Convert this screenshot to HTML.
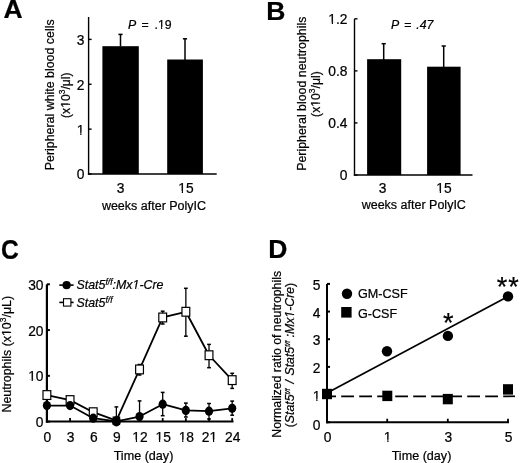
<!DOCTYPE html>
<html><head><meta charset="utf-8"><style>
html,body{margin:0;padding:0;background:#fff;width:520px;height:463px;overflow:hidden}
svg{display:block;will-change:transform}
text{font-family:"Liberation Sans", sans-serif;fill:#000;stroke:#000;stroke-width:0.22px}
</style></head><body>
<svg width="520" height="463" viewBox="0 0 520 463">
<rect width="520" height="463" fill="#fff"/>
<text x="3.5" y="18.3" font-size="26.5" text-anchor="start" font-weight="bold" font-style="normal" >A</text>
<line x1="88.6" y1="17.0" x2="88.6" y2="174.7" stroke="#000" stroke-width="1.4" />
<line x1="87.89999999999999" y1="174.0" x2="216.7" y2="174.0" stroke="#000" stroke-width="1.5" />
<line x1="88.6" y1="174.0" x2="91.6" y2="174.0" stroke="#000" stroke-width="1.4" />
<text x="84.5" y="179.4" font-size="13.8" text-anchor="end" font-weight="normal" font-style="normal" >0</text>
<line x1="88.6" y1="129.13333333333333" x2="91.6" y2="129.13333333333333" stroke="#000" stroke-width="1.4" />
<text x="84.5" y="134.53333333333333" font-size="13.8" text-anchor="end" font-weight="normal" font-style="normal" >1</text>
<line x1="88.6" y1="84.26666666666667" x2="91.6" y2="84.26666666666667" stroke="#000" stroke-width="1.4" />
<text x="84.5" y="89.66666666666667" font-size="13.8" text-anchor="end" font-weight="normal" font-style="normal" >2</text>
<line x1="88.6" y1="39.400000000000006" x2="91.6" y2="39.400000000000006" stroke="#000" stroke-width="1.4" />
<text x="84.5" y="44.800000000000004" font-size="13.8" text-anchor="end" font-weight="normal" font-style="normal" >3</text>
<rect x="102.4" y="46.2" width="36.4" height="127.8" fill="#000" />
<rect x="167.2" y="59.5" width="35.7" height="114.5" fill="#000" />
<line x1="120.5" y1="34.4" x2="120.5" y2="46.5" stroke="#000" stroke-width="1.5" />
<line x1="118.4" y1="34.4" x2="122.6" y2="34.4" stroke="#000" stroke-width="1.5" />
<line x1="185.0" y1="38.8" x2="185.0" y2="60" stroke="#000" stroke-width="1.5" />
<line x1="182.9" y1="38.8" x2="187.1" y2="38.8" stroke="#000" stroke-width="1.5" />
<text x="128.0" y="28.6" font-size="12.3" text-anchor="start" font-weight="normal" font-style="italic" >P</text>
<text x="141.6" y="28.6" font-size="12.3" text-anchor="start" font-weight="normal" font-style="normal" >=</text>
<text x="154.6" y="28.6" font-size="12.3" text-anchor="start" font-weight="normal" font-style="normal" >.19</text>
<text x="120.6" y="192.7" font-size="13.8" text-anchor="middle" font-weight="normal" font-style="normal" >3</text>
<text x="186.0" y="192.7" font-size="13.8" text-anchor="middle" font-weight="normal" font-style="normal" >15</text>
<text x="154.0" y="209.6" font-size="12.5" text-anchor="middle" font-weight="normal" font-style="normal" >weeks after PolyIC</text>
<text transform="translate(54.4,94.8) rotate(-90)" x="0" y="0" font-size="12.4" text-anchor="middle" >Peripheral white blood cells</text>
<text transform="translate(70.0,95.2) rotate(-90)" x="0" y="0" font-size="12.2" text-anchor="middle" >(x10<tspan font-size="8.5" dy="-5.3">3</tspan><tspan dy="5.3">/μl)</tspan></text>
<text x="266.2" y="20.2" font-size="26.5" text-anchor="start" font-weight="bold" font-style="normal" >B</text>
<line x1="354.5" y1="18.8" x2="354.5" y2="175.7" stroke="#000" stroke-width="1.4" />
<line x1="353.8" y1="175.0" x2="472.5" y2="175.0" stroke="#000" stroke-width="1.5" />
<line x1="354.5" y1="175.0" x2="357.5" y2="175.0" stroke="#000" stroke-width="1.4" />
<text x="347.5" y="180.3" font-size="13.8" text-anchor="end" font-weight="normal" font-style="normal" >0</text>
<line x1="354.5" y1="122.93333333333334" x2="357.5" y2="122.93333333333334" stroke="#000" stroke-width="1.4" />
<text x="347.5" y="128.23333333333335" font-size="13.8" text-anchor="end" font-weight="normal" font-style="normal" >0.4</text>
<line x1="354.5" y1="70.86666666666667" x2="357.5" y2="70.86666666666667" stroke="#000" stroke-width="1.4" />
<text x="347.5" y="76.16666666666667" font-size="13.8" text-anchor="end" font-weight="normal" font-style="normal" >0.8</text>
<line x1="354.5" y1="18.80000000000001" x2="357.5" y2="18.80000000000001" stroke="#000" stroke-width="1.4" />
<text x="347.5" y="24.100000000000012" font-size="13.8" text-anchor="end" font-weight="normal" font-style="normal" >1.2</text>
<rect x="367.1" y="59.2" width="34.1" height="115.8" fill="#000" />
<rect x="427.1" y="66.7" width="33.5" height="108.3" fill="#000" />
<line x1="383.7" y1="43.7" x2="383.7" y2="60" stroke="#000" stroke-width="1.5" />
<line x1="381.6" y1="43.7" x2="385.8" y2="43.7" stroke="#000" stroke-width="1.5" />
<line x1="443.7" y1="46.0" x2="443.7" y2="67" stroke="#000" stroke-width="1.5" />
<line x1="441.6" y1="46.0" x2="445.8" y2="46.0" stroke="#000" stroke-width="1.5" />
<text x="391.0" y="28.8" font-size="12.3" text-anchor="start" font-weight="normal" font-style="italic" >P</text>
<text x="404.2" y="28.8" font-size="12.3" text-anchor="start" font-weight="normal" font-style="normal" >=</text>
<text x="416.3" y="28.8" font-size="12.3" text-anchor="start" font-weight="normal" font-style="italic" >.47</text>
<text x="382.5" y="193" font-size="13.8" text-anchor="middle" font-weight="normal" font-style="normal" >3</text>
<text x="444.0" y="193" font-size="13.8" text-anchor="middle" font-weight="normal" font-style="normal" >15</text>
<text x="413.8" y="209.0" font-size="12.5" text-anchor="middle" font-weight="normal" font-style="normal" >weeks after PolyIC</text>
<text transform="translate(306.0,93.7) rotate(-90)" x="0" y="0" font-size="12.4" text-anchor="middle" >Peripheral blood neutrophils</text>
<text transform="translate(320.0,94.1) rotate(-90)" x="0" y="0" font-size="12.2" text-anchor="middle" >(x10<tspan font-size="8.5" dy="-5.3">3</tspan><tspan dy="5.3">/μl)</tspan></text>
<text transform="translate(1.0,259.3) scale(0.93,1.05)" x="0" y="0" font-size="26.5" font-weight="bold">C</text>
<line x1="46.9" y1="284.3" x2="46.9" y2="422.70000000000005" stroke="#000" stroke-width="2.2" />
<line x1="45.9" y1="421.6" x2="233.5" y2="421.6" stroke="#000" stroke-width="2" />
<line x1="46.9" y1="421.6" x2="49.9" y2="421.6" stroke="#000" stroke-width="2" />
<text x="43.5" y="427.1" font-size="13.8" text-anchor="end" font-weight="normal" font-style="normal" >0</text>
<line x1="46.9" y1="375.83333333333337" x2="49.9" y2="375.83333333333337" stroke="#000" stroke-width="2" />
<text x="43.5" y="381.33333333333337" font-size="13.8" text-anchor="end" font-weight="normal" font-style="normal" >10</text>
<line x1="46.9" y1="330.06666666666666" x2="49.9" y2="330.06666666666666" stroke="#000" stroke-width="2" />
<text x="43.5" y="335.56666666666666" font-size="13.8" text-anchor="end" font-weight="normal" font-style="normal" >20</text>
<line x1="46.9" y1="284.3" x2="49.9" y2="284.3" stroke="#000" stroke-width="2" />
<text x="43.5" y="289.8" font-size="13.8" text-anchor="end" font-weight="normal" font-style="normal" >30</text>
<text x="47.4" y="441.5" font-size="13.8" text-anchor="middle" font-weight="normal" font-style="normal" >0</text>
<line x1="70.06" y1="421.6" x2="70.06" y2="418.1" stroke="#000" stroke-width="1.8" />
<text x="70.56" y="441.5" font-size="13.8" text-anchor="middle" font-weight="normal" font-style="normal" >3</text>
<line x1="93.22" y1="421.6" x2="93.22" y2="418.1" stroke="#000" stroke-width="1.8" />
<text x="93.72" y="441.5" font-size="13.8" text-anchor="middle" font-weight="normal" font-style="normal" >6</text>
<line x1="116.38" y1="421.6" x2="116.38" y2="418.1" stroke="#000" stroke-width="1.8" />
<text x="116.88" y="441.5" font-size="13.8" text-anchor="middle" font-weight="normal" font-style="normal" >9</text>
<line x1="139.54" y1="421.6" x2="139.54" y2="418.1" stroke="#000" stroke-width="1.8" />
<text x="140.04" y="441.5" font-size="13.8" text-anchor="middle" font-weight="normal" font-style="normal" >12</text>
<line x1="162.7" y1="421.6" x2="162.7" y2="418.1" stroke="#000" stroke-width="1.8" />
<text x="163.2" y="441.5" font-size="13.8" text-anchor="middle" font-weight="normal" font-style="normal" >15</text>
<line x1="185.86" y1="421.6" x2="185.86" y2="418.1" stroke="#000" stroke-width="1.8" />
<text x="186.36" y="441.5" font-size="13.8" text-anchor="middle" font-weight="normal" font-style="normal" >18</text>
<line x1="209.02" y1="421.6" x2="209.02" y2="418.1" stroke="#000" stroke-width="1.8" />
<text x="209.52" y="441.5" font-size="13.8" text-anchor="middle" font-weight="normal" font-style="normal" >21</text>
<line x1="232.18" y1="421.6" x2="232.18" y2="418.1" stroke="#000" stroke-width="1.8" />
<text x="232.68" y="441.5" font-size="13.8" text-anchor="middle" font-weight="normal" font-style="normal" >24</text>
<text x="143.5" y="459.5" font-size="12.6" text-anchor="middle" font-weight="normal" font-style="normal" >Time (day)</text>
<text transform="translate(11.3,354.2) rotate(-90)" x="0" y="0" font-size="12.4" text-anchor="middle" >Neutrophils (x10<tspan font-size="8.5" dy="-5.3">3</tspan><tspan dy="5.3">/μL)</tspan></text>
<line x1="59.3" y1="285.1" x2="73.6" y2="285.1" stroke="#000" stroke-width="1.6" />
<circle cx="66.6" cy="285.2" r="4.1" fill="#000"/>
<text x="76.5" y="289.4" font-size="12.4" font-style="italic">Stat5<tspan font-size="8.5" dy="-4.2">f/f</tspan><tspan dy="4.2">:Mx1-Cre</tspan></text>
<line x1="59.3" y1="302.4" x2="73.6" y2="302.4" stroke="#000" stroke-width="1.6" />
<rect x="63.5" y="298.7" width="7.4" height="7.4" fill="#fff" stroke="#000" stroke-width="1.1"/>
<text x="76.5" y="307" font-size="12.4" font-style="italic">Stat5<tspan font-size="8.5" dy="-4.2">f/f</tspan></text>
<line x1="139.54" y1="364.5" x2="139.54" y2="375" stroke="#000" stroke-width="1.3" />
<line x1="137.64" y1="364.5" x2="141.44" y2="364.5" stroke="#000" stroke-width="1.5" />
<line x1="137.64" y1="375" x2="141.44" y2="375" stroke="#000" stroke-width="1.5" />
<line x1="162.7" y1="311.2" x2="162.7" y2="324" stroke="#000" stroke-width="1.3" />
<line x1="160.79999999999998" y1="311.2" x2="164.6" y2="311.2" stroke="#000" stroke-width="1.5" />
<line x1="160.79999999999998" y1="324" x2="164.6" y2="324" stroke="#000" stroke-width="1.5" />
<line x1="185.86" y1="288.3" x2="185.86" y2="336.2" stroke="#000" stroke-width="1.3" />
<line x1="183.96" y1="288.3" x2="187.76000000000002" y2="288.3" stroke="#000" stroke-width="1.5" />
<line x1="183.96" y1="336.2" x2="187.76000000000002" y2="336.2" stroke="#000" stroke-width="1.5" />
<line x1="209.02" y1="344.4" x2="209.02" y2="367.7" stroke="#000" stroke-width="1.3" />
<line x1="207.12" y1="344.4" x2="210.92000000000002" y2="344.4" stroke="#000" stroke-width="1.5" />
<line x1="207.12" y1="367.7" x2="210.92000000000002" y2="367.7" stroke="#000" stroke-width="1.5" />
<line x1="232.18" y1="373.3" x2="232.18" y2="388.4" stroke="#000" stroke-width="1.3" />
<line x1="230.28" y1="373.3" x2="234.08" y2="373.3" stroke="#000" stroke-width="1.5" />
<line x1="230.28" y1="388.4" x2="234.08" y2="388.4" stroke="#000" stroke-width="1.5" />
<line x1="116.38" y1="406.9" x2="116.38" y2="421" stroke="#000" stroke-width="1.3" />
<line x1="114.47999999999999" y1="406.9" x2="118.28" y2="406.9" stroke="#000" stroke-width="1.5" />
<line x1="114.47999999999999" y1="421" x2="118.28" y2="421" stroke="#000" stroke-width="1.5" />
<line x1="139.54" y1="400.9" x2="139.54" y2="421" stroke="#000" stroke-width="1.3" />
<line x1="137.64" y1="400.9" x2="141.44" y2="400.9" stroke="#000" stroke-width="1.5" />
<line x1="137.64" y1="421" x2="141.44" y2="421" stroke="#000" stroke-width="1.5" />
<line x1="162.7" y1="392.4" x2="162.7" y2="415.7" stroke="#000" stroke-width="1.3" />
<line x1="160.79999999999998" y1="392.4" x2="164.6" y2="392.4" stroke="#000" stroke-width="1.5" />
<line x1="160.79999999999998" y1="415.7" x2="164.6" y2="415.7" stroke="#000" stroke-width="1.5" />
<line x1="185.86" y1="403.1" x2="185.86" y2="417" stroke="#000" stroke-width="1.3" />
<line x1="183.96" y1="403.1" x2="187.76000000000002" y2="403.1" stroke="#000" stroke-width="1.5" />
<line x1="183.96" y1="417" x2="187.76000000000002" y2="417" stroke="#000" stroke-width="1.5" />
<line x1="209.02" y1="403.5" x2="209.02" y2="419" stroke="#000" stroke-width="1.3" />
<line x1="207.12" y1="403.5" x2="210.92000000000002" y2="403.5" stroke="#000" stroke-width="1.5" />
<line x1="207.12" y1="419" x2="210.92000000000002" y2="419" stroke="#000" stroke-width="1.5" />
<line x1="232.18" y1="401.1" x2="232.18" y2="415.2" stroke="#000" stroke-width="1.3" />
<line x1="230.28" y1="401.1" x2="234.08" y2="401.1" stroke="#000" stroke-width="1.5" />
<line x1="230.28" y1="415.2" x2="234.08" y2="415.2" stroke="#000" stroke-width="1.5" />
<polyline points="46.90,395.06 70.06,400.09 93.22,412.22 116.38,420.68 139.54,369.43 162.70,317.48 185.86,311.76 209.02,355.24 232.18,380.14" fill="none" stroke="#000" stroke-width="1.8" stroke-linejoin="round"/>
<rect x="43.00" y="390.66" width="7.8" height="8.8" fill="#fff" stroke="#000" stroke-width="1.2"/>
<rect x="66.16" y="395.69" width="7.8" height="8.8" fill="#fff" stroke="#000" stroke-width="1.2"/>
<rect x="89.32" y="407.82" width="7.8" height="8.8" fill="#fff" stroke="#000" stroke-width="1.2"/>
<rect x="113.18" y="417.08" width="6.4" height="7.2" fill="#fff" stroke="#000" stroke-width="1.2"/>
<rect x="135.64" y="365.03" width="7.8" height="8.8" fill="#fff" stroke="#000" stroke-width="1.2"/>
<rect x="158.80" y="313.08" width="7.8" height="8.8" fill="#fff" stroke="#000" stroke-width="1.2"/>
<rect x="181.96" y="307.36" width="7.8" height="8.8" fill="#fff" stroke="#000" stroke-width="1.2"/>
<rect x="205.12" y="350.84" width="7.8" height="8.8" fill="#fff" stroke="#000" stroke-width="1.2"/>
<rect x="228.28" y="375.74" width="7.8" height="8.8" fill="#fff" stroke="#000" stroke-width="1.2"/>
<polyline points="46.90,405.58 70.06,405.58 93.22,418.17 116.38,421.37 139.54,416.57 162.70,404.21 185.86,410.39 209.02,411.21 232.18,408.33" fill="none" stroke="#000" stroke-width="1.8" stroke-linejoin="round"/>
<ellipse cx="46.90" cy="405.58" rx="4.1" ry="4.6" fill="#000"/>
<ellipse cx="70.06" cy="405.58" rx="4.1" ry="4.6" fill="#000"/>
<ellipse cx="93.22" cy="418.17" rx="4.1" ry="4.6" fill="#000"/>
<ellipse cx="116.38" cy="421.37" rx="4.5" ry="5.1" fill="#000"/>
<ellipse cx="139.54" cy="416.57" rx="4.1" ry="4.6" fill="#000"/>
<ellipse cx="162.70" cy="404.21" rx="4.1" ry="4.6" fill="#000"/>
<ellipse cx="185.86" cy="410.39" rx="4.1" ry="4.6" fill="#000"/>
<ellipse cx="209.02" cy="411.21" rx="4.1" ry="4.6" fill="#000"/>
<ellipse cx="232.18" cy="408.33" rx="4.1" ry="4.6" fill="#000"/>
<text x="268.3" y="258.3" font-size="26.5" text-anchor="start" font-weight="bold" font-style="normal" >D</text>
<line x1="327.0" y1="283.9" x2="327.0" y2="423.2" stroke="#000" stroke-width="2" />
<line x1="326.0" y1="422.2" x2="509" y2="422.2" stroke="#000" stroke-width="2" />
<line x1="327.0" y1="422.2" x2="330.0" y2="422.2" stroke="#000" stroke-width="2" />
<text x="320.5" y="429.7" font-size="13.8" text-anchor="end" font-weight="normal" font-style="normal" >0</text>
<line x1="327.0" y1="394.53999999999996" x2="330.0" y2="394.53999999999996" stroke="#000" stroke-width="2" />
<text x="320.5" y="400.53999999999996" font-size="13.8" text-anchor="end" font-weight="normal" font-style="normal" >1</text>
<line x1="327.0" y1="366.88" x2="330.0" y2="366.88" stroke="#000" stroke-width="2" />
<text x="320.5" y="372.88" font-size="13.8" text-anchor="end" font-weight="normal" font-style="normal" >2</text>
<line x1="327.0" y1="339.21999999999997" x2="330.0" y2="339.21999999999997" stroke="#000" stroke-width="2" />
<text x="320.5" y="345.21999999999997" font-size="13.8" text-anchor="end" font-weight="normal" font-style="normal" >3</text>
<line x1="327.0" y1="311.55999999999995" x2="330.0" y2="311.55999999999995" stroke="#000" stroke-width="2" />
<text x="320.5" y="317.55999999999995" font-size="13.8" text-anchor="end" font-weight="normal" font-style="normal" >4</text>
<line x1="327.0" y1="283.9" x2="330.0" y2="283.9" stroke="#000" stroke-width="2" />
<text x="320.5" y="289.9" font-size="13.8" text-anchor="end" font-weight="normal" font-style="normal" >5</text>
<text x="327.5" y="441.5" font-size="13.8" text-anchor="middle" font-weight="normal" font-style="normal" >0</text>
<line x1="387.2" y1="422.2" x2="387.2" y2="418.7" stroke="#000" stroke-width="1.8" />
<text x="387.7" y="441.5" font-size="13.8" text-anchor="middle" font-weight="normal" font-style="normal" >1</text>
<line x1="447.8" y1="422.2" x2="447.8" y2="418.7" stroke="#000" stroke-width="1.8" />
<text x="448.3" y="441.5" font-size="13.8" text-anchor="middle" font-weight="normal" font-style="normal" >3</text>
<line x1="508.0" y1="422.2" x2="508.0" y2="418.7" stroke="#000" stroke-width="1.8" />
<text x="508.5" y="441.5" font-size="13.8" text-anchor="middle" font-weight="normal" font-style="normal" >5</text>
<text x="421.5" y="459.5" font-size="12.6" text-anchor="middle" font-weight="normal" font-style="normal" >Time (day)</text>
<text transform="translate(280.7,354.35) rotate(-90)" x="0" y="0" font-size="12.3" text-anchor="middle" >Normalized ratio of neutrophils</text>
<text transform="translate(294.0,355.0) rotate(-90)" x="0" y="0" font-size="12.3" text-anchor="middle" >(<tspan font-style="italic">Stat5<tspan font-size="7.2" dy="-4.3">f/f</tspan><tspan dy="4.3" dx="1.4"> / </tspan><tspan dx="1.2">Stat5</tspan><tspan font-size="7.2" dy="-4.3">f/f</tspan><tspan dy="4.3"> :Mx1-Cre</tspan></tspan>)</text>
<line x1="323.2" y1="396.3" x2="515" y2="396.3" stroke="#000" stroke-width="1.7" stroke-dasharray="12.8 5.2"/>
<line x1="327" y1="393.0" x2="508" y2="296.5" stroke="#000" stroke-width="1.65" />
<rect x="322" y="388.8" width="10" height="10.4" fill="#000" />
<rect x="382.3" y="390.7" width="10" height="10.4" fill="#000" />
<rect x="442.8" y="393.90000000000003" width="10" height="10.4" fill="#000" />
<rect x="503" y="384.2" width="10" height="10.4" fill="#000" />
<circle cx="387" cy="351.3" r="5.2" fill="#000"/>
<circle cx="447.9" cy="335.9" r="5.2" fill="#000"/>
<circle cx="508" cy="296.4" r="5.2" fill="#000"/>
<circle cx="347" cy="293.8" r="5.2" fill="#000"/>
<rect x="341.2" y="307.0" width="10.4" height="10.6" fill="#000" />
<text x="358.0" y="298.3" font-size="12.6" text-anchor="start" font-weight="normal" font-style="normal" >GM-CSF</text>
<text x="358.0" y="317.7" font-size="12.6" text-anchor="start" font-weight="normal" font-style="normal" >G-CSF</text>
<text x="448.3" y="332.3" font-size="27" text-anchor="middle" font-weight="normal" font-style="normal" stroke-width="0.35">*</text>
<text x="508.3" y="296.3" font-size="27" text-anchor="middle" font-weight="normal" font-style="normal" letter-spacing="1.0" stroke-width="0.35">**</text>
<g id="foot-fix"><polygon points="77.16,135.63 77.16,132.70 80.28,132.70 80.28,135.63" fill="#fff"/><polygon points="81.50,135.63 81.50,132.70 84.51,132.70 84.51,135.63" fill="#fff"/><polygon points="158.24,29.70 158.24,26.88 161.10,26.88 161.10,29.70" fill="#fff"/><polygon points="162.19,29.70 162.19,26.88 164.95,26.88 164.95,29.70" fill="#fff"/><polygon points="178.67,193.80 178.67,190.87 181.79,190.87 181.79,193.80" fill="#fff"/><polygon points="183.01,193.80 183.01,190.87 186.02,190.87 186.02,193.80" fill="#fff"/><g transform="translate(70.0,95.2) rotate(-90)"><polygon points="-12.45,1.10 -12.45,-1.71 -9.61,-1.71 -9.61,1.10" fill="#fff"/></g><g transform="translate(70.0,95.2) rotate(-90)"><polygon points="-8.53,1.10 -8.53,-1.71 -5.79,-1.71 -5.79,1.10" fill="#fff"/></g><polygon points="328.66,25.20 328.66,22.27 331.78,22.27 331.78,25.20" fill="#fff"/><polygon points="333.00,25.20 333.00,22.27 336.01,22.27 336.01,25.20" fill="#fff"/><polygon points="436.67,194.10 436.67,191.17 439.79,191.17 439.79,194.10" fill="#fff"/><polygon points="441.01,194.10 441.01,191.17 444.02,191.17 444.02,194.10" fill="#fff"/><g transform="translate(320.0,94.1) rotate(-90)"><polygon points="-12.45,1.10 -12.45,-1.71 -9.61,-1.71 -9.61,1.10" fill="#fff"/></g><g transform="translate(320.0,94.1) rotate(-90)"><polygon points="-8.53,1.10 -8.53,-1.71 -5.79,-1.71 -5.79,1.10" fill="#fff"/></g><polygon points="28.49,382.43 28.49,379.50 31.61,379.50 31.61,382.43" fill="#fff"/><polygon points="32.83,382.43 32.83,379.50 35.84,379.50 35.84,382.43" fill="#fff"/><polygon points="132.71,442.60 132.71,439.67 135.83,439.67 135.83,442.60" fill="#fff"/><polygon points="137.05,442.60 137.05,439.67 140.06,439.67 140.06,442.60" fill="#fff"/><polygon points="155.87,442.60 155.87,439.67 158.99,439.67 158.99,442.60" fill="#fff"/><polygon points="160.21,442.60 160.21,439.67 163.22,439.67 163.22,442.60" fill="#fff"/><polygon points="179.03,442.60 179.03,439.67 182.15,439.67 182.15,442.60" fill="#fff"/><polygon points="183.37,442.60 183.37,439.67 186.38,439.67 186.38,442.60" fill="#fff"/><polygon points="209.86,442.60 209.86,439.67 212.98,439.67 212.98,442.60" fill="#fff"/><polygon points="214.20,442.60 214.20,439.67 217.21,439.67 217.21,442.60" fill="#fff"/><g transform="translate(11.3,354.2) rotate(-90)"><polygon points="18.38,1.10 18.38,-1.73 21.25,-1.73 21.25,1.10" fill="#fff"/></g><g transform="translate(11.3,354.2) rotate(-90)"><polygon points="22.35,1.10 22.35,-1.73 25.12,-1.73 25.12,1.10" fill="#fff"/></g><polygon points="132.51,290.50 132.69,287.67 135.16,287.67 134.98,290.50" fill="#fff"/><polygon points="136.07,290.50 136.26,287.67 138.63,287.67 138.45,290.50" fill="#fff"/><polygon points="313.16,401.64 313.16,398.71 316.28,398.71 316.28,401.64" fill="#fff"/><polygon points="317.50,401.64 317.50,398.71 320.51,398.71 320.51,401.64" fill="#fff"/><polygon points="384.21,442.60 384.21,439.67 387.33,439.67 387.33,442.60" fill="#fff"/><polygon points="388.55,442.60 388.55,439.67 391.56,439.67 391.56,442.60" fill="#fff"/><g transform="translate(294.0,355.0) rotate(-90)"><polygon points="37.39,1.10 37.57,-1.72 40.02,-1.72 39.84,1.10" fill="#fff"/></g><g transform="translate(294.0,355.0) rotate(-90)"><polygon points="40.93,1.10 41.11,-1.72 43.47,-1.72 43.29,1.10" fill="#fff"/></g></g>
</svg>
</body></html>
